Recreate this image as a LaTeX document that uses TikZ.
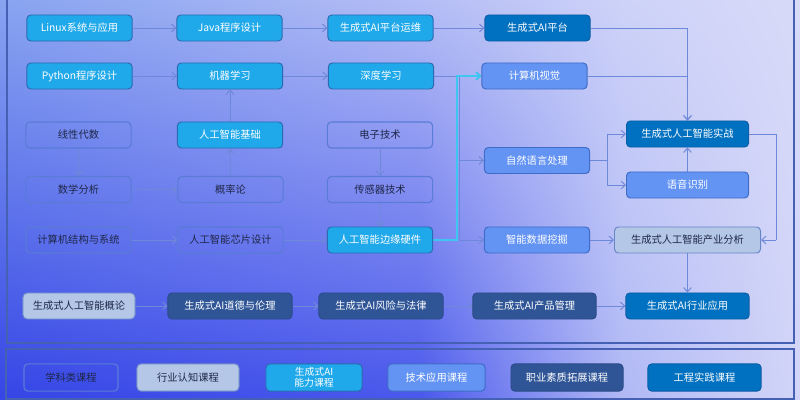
\documentclass[tikz,border=0pt]{standalone}
\usepackage{fontspec}
\setmainfont{Noto Sans CJK SC}
\usetikzlibrary{shadings,arrows.meta}
\definecolor{capabfill}{HTML}{1FA8EA}
\definecolor{capabdraw}{HTML}{2C6AB2}
\definecolor{practicefill}{HTML}{0070C0}
\definecolor{practicedraw}{HTML}{0C5EA6}
\definecolor{techfill}{HTML}{6494F3}
\definecolor{techdraw}{HTML}{3F6CC6}
\definecolor{industryfill}{HTML}{B4C7E7}
\definecolor{industrydraw}{HTML}{6A86C8}
\definecolor{qualityfill}{HTML}{2F5597}
\definecolor{qualitydraw}{HTML}{2A4A88}
\definecolor{subjectdraw}{HTML}{5A7BD6}
\definecolor{darktext}{HTML}{1E2748}
\definecolor{edgeblue}{HTML}{6E89DA}
\definecolor{edgecyan}{HTML}{3CC6F0}
\definecolor{framecol}{HTML}{4660B4}
\tikzstyle{box}=[shape=rectangle, rounded corners=2.8pt, minimum width=2.63cm, minimum height=0.65cm, inner sep=1pt, line width=0.7pt, font=\fontsize{7.3}{8.6}\selectfont]
\tikzstyle{capab node}=[box, fill=capabfill, draw=capabdraw, text=white]
\tikzstyle{practice node}=[box, fill=practicefill, draw=practicedraw, text=white]
\tikzstyle{tech node}=[box, fill=techfill, draw=techdraw, text=white]
\tikzstyle{industry node}=[box, fill=industryfill, draw=industrydraw, text=darktext]
\tikzstyle{quality node}=[box, fill=qualityfill, draw=qualitydraw, text=white]
\tikzstyle{subject node}=[box, draw=subjectdraw, line width=0.8pt, text=darktext]
\tikzstyle{blue edge}=[-{Straight Barb[length=3pt,width=5.5pt]}, draw=edgeblue, line width=0.7pt]
\tikzstyle{cyan edge}=[-{Straight Barb[length=3pt,width=5.5pt]}, draw=edgecyan, line width=1.2pt]
\tikzstyle{frame}=[draw=framecol, line width=0.9pt]
\pgfdeclarelayer{edgelayer}
\pgfdeclarelayer{nodelayer}
\pgfsetlayers{main,edgelayer,nodelayer}

\begin{document}
\begin{tikzpicture}[x=0.025cm, y=-0.025cm]
	\useasboundingbox (0, 0) rectangle (800, 400);
	% background
	\shade [lower left={rgb,255:red,53;green,69;blue,230}, upper left={rgb,255:red,136;green,164;blue,240}, upper right={rgb,255:red,180;green,189;blue,245}, lower right={rgb,255:red,74;green,88;blue,236}] (0, 400) rectangle (421, 0);
	\shade [lower left={rgb,255:red,74;green,88;blue,236}, upper left={rgb,255:red,180;green,189;blue,245}, upper right={rgb,255:red,205;green,210;blue,248}, lower right={rgb,255:red,176;green,184;blue,245}] (420, 400) rectangle (621, 0);
	\shade [lower left={rgb,255:red,176;green,184;blue,245}, upper left={rgb,255:red,205;green,210;blue,248}, upper right={rgb,255:red,216;green,218;blue,248}, lower right={rgb,255:red,210;green,213;blue,248}] (620, 400) rectangle (800, 0);
	\draw [style=frame] (7, -5) rectangle (794, 343);
	\draw [style=frame] (6, 349) rectangle (794, 399);
	\begin{pgfonlayer}{nodelayer}
		\node [style=capab node] (0) at (79.5, 28) {Linux系统与应用};
		\node [style=capab node] (1) at (229.5, 28) {Java程序设计};
		\node [style=capab node] (2) at (380.5, 28) {生成式AI平台运维};
		\node [style=practice node] (3) at (537.5, 28) {生成式AI平台};
		\node [style=capab node] (4) at (79.5, 76) {Python程序设计};
		\node [style=capab node] (5) at (230, 76) {机器学习};
		\node [style=capab node] (6) at (381, 76) {深度学习};
		\node [style=tech node] (7) at (534.5, 76) {计算机视觉};
		\node [style=subject node] (8) at (78.5, 135) {线性代数};
		\node [style=capab node] (9) at (230, 135) {人工智能基础};
		\node [style=subject node] (10) at (380, 135) {电子技术};
		\node [style=practice node, minimum width=3.05cm] (11) at (687.5, 134) {生成式人工智能实战};
		\node [style=tech node] (12) at (537, 160.5) {自然语言处理};
		\node [style=subject node] (13) at (78.5, 189.5) {数学分析};
		\node [style=subject node] (14) at (230.5, 189.5) {概率论};
		\node [style=subject node] (15) at (380, 189.5) {传感器技术};
		\node [style=tech node, minimum width=3.05cm] (16) at (687.5, 185) {语音识别};
		\node [style=subject node] (17) at (78.5, 240) {计算机结构与系统};
		\node [style=subject node] (18) at (230.5, 240) {人工智能芯片设计};
		\node [style=capab node] (19) at (380, 240) {人工智能边缘硬件};
		\node [style=tech node] (20) at (537, 240) {智能数据挖掘};
		\node [style=industry node, minimum width=3.65cm] (21) at (687.5, 240) {生成式人工智能产业分析};
		\node [style=industry node, minimum width=2.8cm] (22) at (79, 306) {生成式人工智能概论};
		\node [style=quality node, minimum width=3.1cm] (23) at (230, 306) {生成式AI道德与伦理};
		\node [style=quality node, minimum width=3.1cm] (24) at (381, 306) {生成式AI风险与法律};
		\node [style=quality node, minimum width=3.08cm] (25) at (534.5, 306) {生成式AI产品管理};
		\node [style=practice node, minimum width=3.08cm] (26) at (687.5, 306) {生成式AI行业应用};
		% legend
		\node [style=subject node, minimum width=2.35cm, minimum height=0.68cm] (27) at (71, 377.5) {学科类课程};
		\node [style=industry node, minimum width=2.55cm, minimum height=0.68cm] (28) at (188, 377.5) {行业认知课程};
		\node [style=capab node, minimum width=2.4cm, minimum height=0.68cm, align=center, font=\fontsize{7}{7.6}\selectfont] (29) at (314, 377.5) {生成式AI\\能力课程};
		\node [style=tech node, minimum width=2.43cm, minimum height=0.68cm] (30) at (436.5, 377.5) {技术应用课程};
		\node [style=quality node, minimum width=2.8cm, minimum height=0.68cm] (31) at (567, 377.5) {职业素质拓展课程};
		\node [style=practice node, minimum width=2.83cm, minimum height=0.68cm] (32) at (704.5, 377.5) {工程实践课程};
	\end{pgfonlayer}
	\begin{pgfonlayer}{edgelayer}
		\coordinate (b) at (459.5, 76);
		\coordinate (k) at (457, 76);
		\coordinate (n) at (607, 160.5);
		\coordinate (q) at (776, 240);
		\draw [style=blue edge] (0) to (1);
		\draw [style=blue edge] (1) to (2);
		\draw [style=blue edge] (2) to (3);
		\draw [style=blue edge] (3) -| (11);
		\draw [style=blue edge] (7) -| (11);
		\draw [style=blue edge] (4) to (5);
		\draw [style=blue edge] (5) to (6);
		\draw [style=blue edge] (9) to (5);
		\draw [style=blue edge] (14) to (9);
		\draw [style=blue edge] (8) to (13);
		\draw [style=blue edge] (13) to (14);
		\draw [style=blue edge] (10) to (15);
		\draw [style=blue edge] (15) to (19);
		\draw [style=blue edge] (17) to (18);
		\draw [style=blue edge] (18) to (19);
		\draw [style=blue edge, -] (6) to (b);
		\draw [style=blue edge] (b) to (7);
		\draw [style=blue edge] (b) |- (12);
		\draw [style=blue edge] (b) |- (20);
		\draw [style=blue edge, -] (12) to (n);
		\draw [style=blue edge] (n) |- (11);
		\draw [style=blue edge] (n) |- (16);
		\draw [style=blue edge] (16) to (11);
		\draw [style=blue edge, -] (11) -| (q);
		\draw [style=blue edge] (q) to (21);
		\draw [style=blue edge] (20) to (21);
		\draw [style=blue edge] (21) to (26);
		\draw [style=blue edge] (22) to (23);
		\draw [style=blue edge] (23) to (24);
		\draw [style=blue edge] (24) to (25);
		\draw [style=blue edge] (25) to (26);
		\draw [style=cyan edge] (19) -| (k) to (7);
	\end{pgfonlayer}
\end{tikzpicture}
\end{document}
